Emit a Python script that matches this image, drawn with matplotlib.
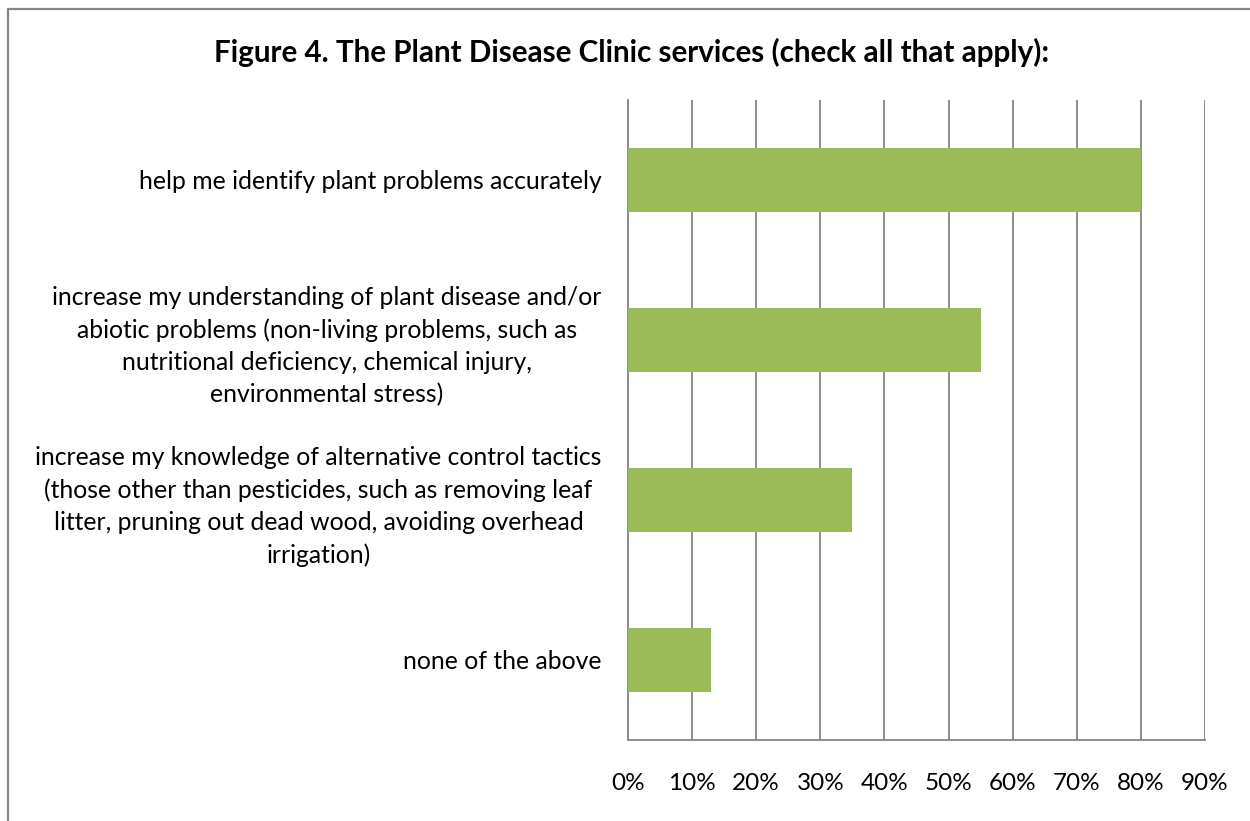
import matplotlib.pyplot as plt
from matplotlib.lines import Line2D

# --- DATA ---
categories = [
    "help me identify plant problems accurately",
    "increase my understanding of plant disease and/or\nabiotic problems (non-living problems, such as\nnutritional deficiency, chemical injury,\nenvironmental stress)",
    "increase my knowledge of alternative control tactics\n(those other than pesticides, such as removing leaf\nlitter, pruning out dead wood, avoiding overhead\nirrigation)",
    "none of the above",
]
values = [80, 55, 35, 13]
x_ticks = [0, 10, 20, 30, 40, 50, 60, 70, 80, 90]
x_labels = [f"{t}%" for t in x_ticks]
title = "Figure 4. The Plant Disease Clinic services (check all that apply):"

BAR_COLOR = '#9BBB59'
GRID_COLOR = '#868686'

plt.rcParams['font.family'] = ['Lato', 'DejaVu Sans']

fig = plt.figure(figsize=(12.5, 8.21), dpi=100)
ax = fig.add_axes([0.5024, 0.0987, 0.4616, 0.7795])

ypos = list(range(len(categories)))
ax.barh(ypos, values, height=0.4, color=BAR_COLOR, zorder=3)
ax.set_ylim(len(categories) - 0.5, -0.5)
ax.set_xlim(0, 90)

ax.set_yticks(ypos)
ax.set_yticklabels(categories, fontsize=17.8, color='black')
for lbl in ax.get_yticklabels():
    lbl.set_multialignment('center')
    lbl.set_linespacing(1.47)
ax.set_xticks(x_ticks)
ax.set_xticklabels(x_labels, fontsize=17.5, color='black')
ax.tick_params(axis='y', length=0, pad=19)
ax.tick_params(axis='x', length=0, pad=24)

ax.grid(axis='x', color=GRID_COLOR, linewidth=1.3, zorder=0)
ax.grid(axis='y', visible=False)
for s in ['top', 'right']:
    ax.spines[s].set_visible(False)
for s in ['left', 'bottom']:
    ax.spines[s].set_color(GRID_COLOR)
    ax.spines[s].set_linewidth(1.3)

fig.text(0.505, 0.936, title, ha='center', va='center', fontsize=21.3, fontweight='bold')

# chart area border (only top and left visible in the crop)
fig.add_artist(Line2D([8 / 1250, 8 / 1250, 1.0], [0.0, 1 - 9 / 821, 1 - 9 / 821],
                      transform=fig.transFigure, color=GRID_COLOR, linewidth=1.6))

fig.savefig('out.png', dpi=100)
